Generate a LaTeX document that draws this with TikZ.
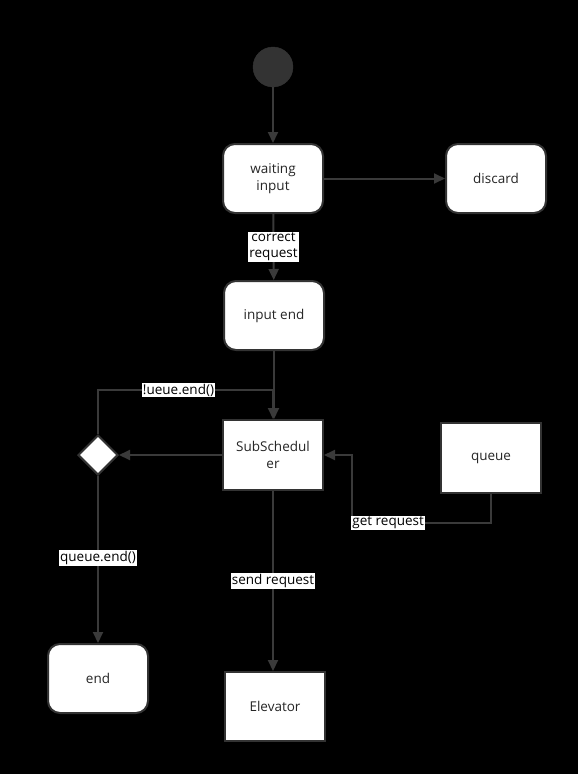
\documentclass[tikz,border=0pt]{standalone}
\usepackage{fontspec}
\setmainfont{Open Sans}
\usetikzlibrary{arrows.meta,shapes.geometric}
\definecolor{ln}{HTML}{3A3A3A}
\definecolor{bd}{HTML}{333333}
\tikzset{
  state/.style={draw=bd,fill=white,line width=2pt,rounded corners=12pt,minimum width=100pt,minimum height=69pt,align=center,font=\fontsize{13.5}{16.5}\selectfont,text=black!85},
  blockbox/.style={draw=bd,fill=white,line width=2pt,minimum width=100pt,minimum height=70pt,align=center,font=\fontsize{13.5}{16.5}\selectfont,text=black!85},
  arr/.style={draw=ln,line width=2pt,-{Triangle[length=11pt,width=10pt]}},
  lbl/.style={fill=white,text=black,inner sep=1pt,align=center,font=\fontsize{13.5}{16}\selectfont}
}
\begin{document}
\begin{tikzpicture}[x=1pt,y=-1pt]
\useasboundingbox[fill=black] (0,0) rectangle (578,774);
\node[circle,fill=bd,draw=bd,minimum size=40pt,inner sep=0pt] (start) at (273,67) {};
\node[state] (wait) at (273,178.5) {waiting\\input};
\node[state] (disc) at (496,178.5) {discard};
\node[state] (iend) at (274,315.5) {input end};
\node[blockbox] (sub) at (273,455) {SubSchedul\\er};
\node[blockbox] (queue) at (491,458) {queue};
\node[diamond,draw=bd,fill=white,line width=2pt,minimum width=40pt,minimum height=40pt,inner sep=0pt] (dia) at (98,455) {};
\node[state] (end) at (98,678.5) {end};
\node[blockbox,minimum height=69pt] (elev) at (275,706.5) {Elevator};
\coordinate (k1) at (98,390);
\coordinate (g1) at (352,523);
\draw[arr] (start) -- (wait);
\draw[arr] (wait) -- (disc);
\draw[arr] (wait) -- node[lbl]{correct\\request} (iend);
\draw[arr] (iend.south) -- (iend.south |- sub.north);
\draw[arr] (dia.north) -- (k1) -- node[lbl,pos=0.46]{!ueue.end()} (k1 -| sub.north) -- (sub.north);
\draw[arr] (sub.west) -- (dia.east);
\draw[arr] (dia.south) -- node[lbl,pos=0.49]{queue.end()} (end.north);
\draw[arr] (sub.south) -- node[lbl,pos=0.5]{send request} (sub.south |- elev.north);
\draw[arr] (queue.south) |- node[lbl,pos=0.87]{get request} (g1) |- (sub.east);
\end{tikzpicture}
\end{document}
